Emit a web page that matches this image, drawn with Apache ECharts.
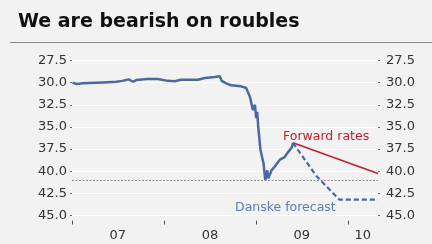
<!DOCTYPE html>
<html>
<head>
<meta charset="utf-8">
<script src="https://cdn.jsdelivr.net/npm/echarts@6/dist/echarts.min.js"></script>
<style>
  html, body { margin: 0; padding: 0; background: #f2f2f2; }
  #chart { width: 432px; height: 244px; }
</style>
</head>
<body>
<div id="chart"></div>
<script>
// RUB basket, spot history
const spotDates = [
  "2007-01-03", "2007-01-20", "2007-02-13", "2007-05-02", "2007-06-27", "2007-07-20",
  "2007-08-14", "2007-09-01", "2007-09-15", "2007-10-25", "2007-12-08", "2008-01-17",
  "2008-02-14", "2008-03-08", "2008-05-15", "2008-06-12", "2008-07-22", "2008-08-10",
  "2008-08-18", "2008-09-03", "2008-09-24", "2008-11-03", "2008-11-23", "2008-12-08",
  "2008-12-20", "2008-12-28", "2009-01-02", "2009-01-06", "2009-01-10", "2009-01-19",
  "2009-01-31", "2009-02-07", "2009-02-15", "2009-02-19", "2009-03-04", "2009-03-16",
  "2009-04-06", "2009-04-25", "2009-05-07", "2009-05-24", "2009-05-28"
];
const spotValues = [
  30.0, 30.15, 30.08, 29.97, 29.9, 29.8,
  29.63, 29.9, 29.7, 29.6, 29.6, 29.8,
  29.85, 29.67, 29.67, 29.48, 29.37, 29.29,
  29.8, 30.05, 30.3, 30.42, 30.6, 31.6,
  33.1, 32.5, 34.0, 33.3, 35.0, 37.6,
  39.1, 41.0, 39.9, 40.8, 39.9, 39.5,
  38.7, 38.4, 37.9, 37.3, 36.8
];

const forwardDates = ["2009-05-28", "2010-05-01"];
const forwardValues = [36.8, 40.25];

const forecastDates = ["2009-05-28", "2009-08-28", "2009-11-28", "2010-05-01"];
const forecastValues = [36.8, 40.5, 43.2, 43.2];

const bandCeiling = 41.0;

const yearTicks = ["2007-01-01", "2008-01-01", "2009-01-01", "2010-01-01"];
const yearLabelPos = ["2007-07-02", "2008-07-02", "2009-07-02", "2010-03-01"];

const ts = (d) => new Date(d + "T00:00:00Z").getTime();
const pairs = (ds, vs) => ds.map((d, i) => [ts(d), vs[i]]);

const chart = echarts.init(document.getElementById("chart"));

const yCommon = {
  type: "value",
  min: 27.5,
  max: 45,
  interval: 2.5,
  inverse: true,
  axisLine: { show: false },
  axisTick: { show: true, length: 2, lineStyle: { color: "#666" } },
  axisLabel: {
    color: "#333",
    fontSize: 13,
    fontFamily: "DejaVu Sans",
    margin: 5,
    formatter: (v) => v.toFixed(1),
  },
};

const option = {
  backgroundColor: "#f2f2f2",
  animation: false,
  grid: { left: 72, right: 54, top: 60.5, bottom: 28.5 },
  graphic: [
    {
      type: "text",
      left: 18,
      top: 13,
      style: {
        text: "We are bearish on roubles",
        font: "bold 19px 'DejaVu Sans'",
        fill: "#111",
      },
    },
    {
      type: "line",
      shape: { x1: 10, y1: 42.5, x2: 432, y2: 42.5 },
      style: { stroke: "#8a8a8a", lineWidth: 1 },
    },
    {
      type: "text",
      left: 283,
      top: 130,
      style: {
        text: "Forward rates",
        font: "12.5px 'DejaVu Sans'",
        fill: "#c0202e",
      },
    },
    {
      type: "text",
      left: 235,
      top: 201,
      style: {
        text: "Danske forecast",
        font: "12.5px 'DejaVu Sans'",
        fill: "#5a7db3",
      },
    },
  ],
  xAxis: {
    type: "value",
    min: ts("2007-01-01"),
    max: ts("2010-05-01"),
    offset: 5,
    axisLine: { show: false },
    splitLine: { show: false },
    axisTick: {
      show: true,
      length: 4,
      customValues: yearTicks.map(ts),
      lineStyle: { color: "#555" },
    },
    axisLabel: {
      customValues: yearLabelPos.map(ts),
      color: "#333",
      fontSize: 13,
      fontFamily: "DejaVu Sans",
      margin: 9,
      showMinLabel: true,
      showMaxLabel: true,
      formatter: (v) => String(new Date(v).getUTCFullYear() % 100).padStart(2, "0"),
    },
  },
  yAxis: [
    Object.assign({}, yCommon, {
      position: "left",
      splitLine: { show: true, lineStyle: { color: "#ffffff", width: 1 } },
    }),
    Object.assign({}, yCommon, {
      position: "right",
      splitLine: { show: false },
      axisLabel: Object.assign({}, yCommon.axisLabel, { margin: 8 }),
    }),
  ],
  series: [
    {
      name: "Forward rates",
      type: "line",
      data: pairs(forwardDates, forwardValues),
      symbol: "none",
      lineStyle: { color: "#c0202e", width: 1.6 },
      z: 3,
    },
    {
      name: "Danske forecast",
      type: "line",
      data: pairs(forecastDates, forecastValues),
      symbol: "none",
      lineStyle: { color: "#4a6a9f", width: 2.2, type: [5, 3] },
      z: 3,
    },
    {
      name: "Spot",
      type: "line",
      data: pairs(spotDates, spotValues),
      symbol: "none",
      lineStyle: { color: "#4a6a9f", width: 2.5 },
      z: 4,
      markLine: {
        silent: true,
        symbol: "none",
        label: { show: false },
        lineStyle: { color: "#8f8f8f", width: 1, type: [2, 1.5] },
        data: [{ yAxis: bandCeiling }],
      },
    },
  ],
};

chart.setOption(option);
</script>
</body>
</html>
